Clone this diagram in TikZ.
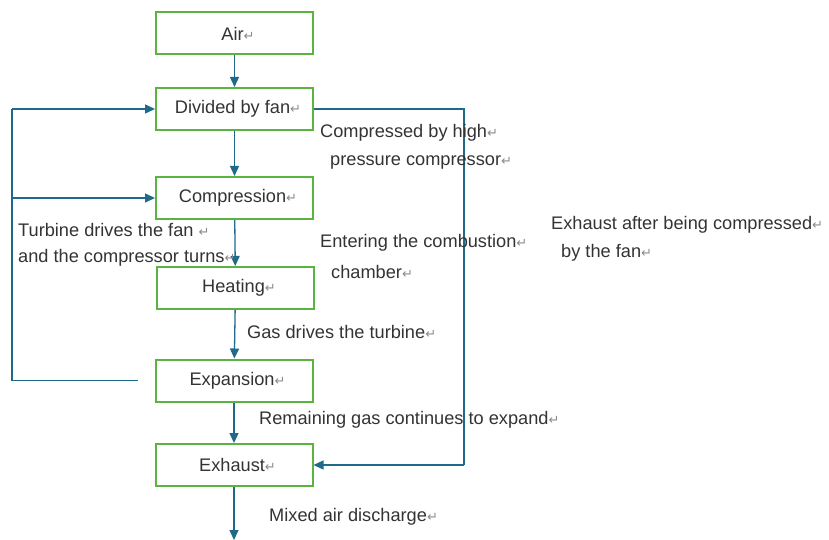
\documentclass[tikz,border=0pt]{standalone}
\usepackage{fontspec}
\setmainfont{Liberation Sans}
\newfontfamily\dejavu{DejaVu Sans}
\usetikzlibrary{arrows.meta}
\definecolor{boxgreen}{HTML}{5AB540}
\definecolor{linkblue}{HTML}{1F6A8A}
\definecolor{txt}{HTML}{333333}
\definecolor{retgray}{HTML}{8A8A8A}
\newcommand{\retm}{{\color{retgray}\dejavu\fontsize{13}{15}\selectfont ↵}}
\newcommand{\boxpad}{\hspace*{7pt}}
\tikzset{
  stepbox/.style={draw=boxgreen, line width=2pt, minimum width=157pt, minimum height=42pt, inner sep=0pt, text=txt, font=\fontsize{18.2}{21}\selectfont},
  lbl/.style={anchor=west, inner sep=0pt, text=txt, font=\fontsize{18.2}{21}\selectfont},
  link/.style={draw=linkblue, line width=1.3pt, -{Triangle[length=10pt,width=9pt]}},
  plainlink/.style={draw=linkblue, line width=1.3pt},
}
\begin{document}
\begin{tikzpicture}[x=1pt,y=-1pt]
\useasboundingbox (0,0) rectangle (829,540);
\node[stepbox] (air) at (234.5,33.5) {\boxpad Air\retm};
\node[stepbox] (fan) at (234.5,109) {\boxpad Divided by fan\retm};
\node[stepbox] (comp) at (234.5,198) {\boxpad Compression\retm};
\node[stepbox] (heat) at (235.5,288) {\boxpad Heating\retm};
\node[stepbox] (exp) at (234,380.5) {\boxpad Expansion\retm};
\node[stepbox] (exh) at (234,465) {\boxpad Exhaust\retm};
\coordinate (out) at (234,540);
\coordinate (lt) at (12,109);
\coordinate (lm) at (12,198);
\coordinate (lb) at (12,380.5);
\coordinate (rt) at (464,109);
\coordinate (rb) at (464,465);

\draw[link] (air) -- (fan);
\draw[link] (fan) -- (comp);
\draw[link] (comp) -- (heat);
\draw[link] (heat) -- (exp);
\draw[link] (exp) -- (exh);
\draw[link] (exh) -- (out);

\draw[plainlink] ([xshift=-17pt]exp.west) -- (lb) -- (lt);
\draw[link] (lt) -- (fan.west);
\draw[link] (lm) -- (comp.west);
\draw[plainlink] (fan.east) -- (rt) -- (rb);
\draw[link] (rb) -- (exh.east);

\node[lbl] (l1) at (320,133) {Compressed by high\retm};
\node[lbl] (l2) at (330,162) {pressure compressor\retm};
\node[lbl] (l3) at (18,230) {Turbine drives the fan \retm};
\node[lbl] (l4) at (18,258) {and the compressor turns\retm};
\node[lbl] (l5) at (320,243) {Entering the combustion\retm};
\node[lbl] (l6) at (331,272) {chamber\retm};
\node[lbl] (l7) at (551,225) {Exhaust after being compressed\retm};
\node[lbl] (l8) at (561,253) {by the fan\retm};
\node[lbl] (l9) at (247,332) {Gas drives the turbine\retm};
\node[lbl] (l10) at (259,420) {Remaining gas continues to expand\retm};
\node[lbl] (l11) at (269,517) {Mixed air discharge\retm};
\end{tikzpicture}
\end{document}
